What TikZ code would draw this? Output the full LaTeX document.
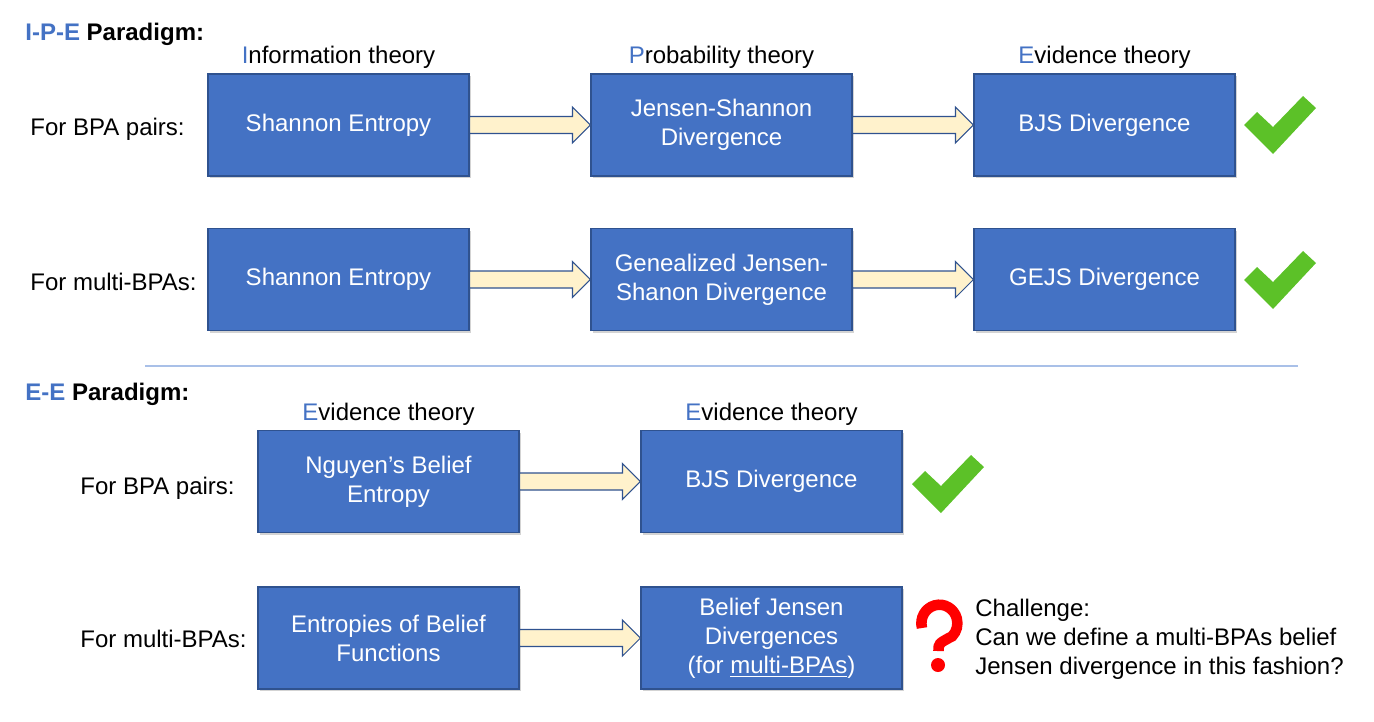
\documentclass[tikz,border=0pt]{standalone}
\usepackage{fontspec}
\setmainfont{Liberation Sans}
\usetikzlibrary{shadows}
\definecolor{boxblue}{HTML}{4472C4}
\definecolor{boxline}{HTML}{2F528F}
\definecolor{arrowfill}{HTML}{FFF2CC}
\definecolor{okgreen}{HTML}{5CC128}
\definecolor{seprule}{HTML}{A9C0E8}
\tikzset{
  theory/.style={draw=boxline, line width=0.6pt, fill=boxblue, text=white,
    minimum width=5.22cm, minimum height=2.04cm, inner sep=0pt, align=center,
    drop shadow={shadow xshift=1.2pt, shadow yshift=-1.2pt, opacity=0.35}},
  label/.style={inner sep=0pt},
  fatarrow/.style={draw=boxline, line width=0.6pt, fill=arrowfill},
  okmark/.pic={\fill[okgreen] (0.26,-0.32) -- (0.58,-0.62) -- (1.18,0) -- (1.44,-0.24)
    -- (0.58,-1.16) -- (0,-0.58) -- cycle;},
}
% block arrow from the east side of #1 to the west side of #2
\newcommand{\flowarrow}[2]{%
  \draw[fatarrow] ([yshift=0.17cm]#1.east) -- ([xshift=-0.36cm,yshift=0.17cm]#2.west)
    -- ([xshift=-0.36cm,yshift=0.36cm]#2.west) -- (#2.west)
    -- ([xshift=-0.36cm,yshift=-0.36cm]#2.west) -- ([xshift=-0.36cm,yshift=-0.17cm]#2.west)
    -- ([yshift=-0.17cm]#1.east) -- cycle;}
\newcommand{\hl}[1]{\textcolor{boxblue}{#1}}
\begin{document}
\begin{tikzpicture}[font=\fontsize{13.66}{16.5}\selectfont]
  \useasboundingbox (0,0) rectangle (27.48,-14.42);
  % I-P-E paradigm
  \node[label, anchor=base west] (ipehead) at (0.50,-0.80) {\bfseries\hl{I-P-E} Paradigm:};
  \node[label, anchor=base] (infoth) at (6.77,-1.26) {\hl{I}nformation theory};
  \node[label, anchor=base] (probth) at (14.43,-1.26) {\hl{P}robability theory};
  \node[label, anchor=base] (evith) at (22.09,-1.26) {\hl{E}vidence theory};
  \node[label, anchor=base west] (pairs1) at (0.60,-2.70) {For BPA pairs:};
  \node[label, anchor=base west] (multi1) at (0.60,-5.80) {For multi-BPAs:};
  \node[theory] (se1) at (6.77,-2.50) {Shannon Entropy};
  \node[theory] (jsd) at (14.43,-2.50) {Jensen-Shannon\\Divergence};
  \node[theory] (bjs1) at (22.09,-2.50) {BJS Divergence};
  \node[theory] (se2) at (6.77,-5.59) {Shannon Entropy};
  \node[theory] (gjsd) at (14.43,-5.59) {Genealized Jensen-\\Shanon Divergence};
  \node[theory] (gejs) at (22.09,-5.59) {GEJS Divergence};
  \flowarrow{se1}{jsd} \flowarrow{jsd}{bjs1}
  \flowarrow{se2}{gjsd} \flowarrow{gjsd}{gejs}
  \pic at (24.88,-1.92) {okmark};
  \pic at (24.88,-5.02) {okmark};

  \draw[seprule, line width=0.8pt] (2.90,-7.32) -- (25.96,-7.32);

  % E-E paradigm
  \node[label, anchor=base west] (eehead) at (0.50,-8.00) {\bfseries\hl{E-E} Paradigm:};
  \node[label, anchor=base] (evith2) at (7.77,-8.40) {\hl{E}vidence theory};
  \node[label, anchor=base] (evith3) at (15.43,-8.40) {\hl{E}vidence theory};
  \node[label, anchor=base west] (pairs2) at (1.60,-9.88) {For BPA pairs:};
  \node[label, anchor=base west] (multi2) at (1.60,-12.94) {For multi-BPAs:};
  \node[theory] (nbe) at (7.77,-9.63) {Nguyen’s Belief\\Entropy};
  \node[theory] (bjs2) at (15.43,-9.63) {BJS Divergence};
  \node[theory] (ebf) at (7.77,-12.76) {Entropies of Belief\\Functions};
  \node[theory] (bjd) at (15.43,-12.76) {Belief Jensen\\Divergences\\(for \underline{multi-BPAs})};
  \flowarrow{nbe}{bjs2}
  \flowarrow{ebf}{bjd}
  \pic at (18.24,-9.10) {okmark};
  % question mark
  \draw[red, line width=6pt] (18.44,-12.56) arc[start angle=195, end angle=-45, x radius=0.36, y radius=0.37]
    .. controls (18.77,-12.87) .. (18.77,-13.02);
  \fill[red] (18.76,-13.30) circle (0.14);
  \node[label, anchor=west, align=left] (challenge) at (19.50,-12.78)
    {Challenge:\\Can we define a multi-BPAs belief\\Jensen divergence in this fashion?};
\end{tikzpicture}
\end{document}
